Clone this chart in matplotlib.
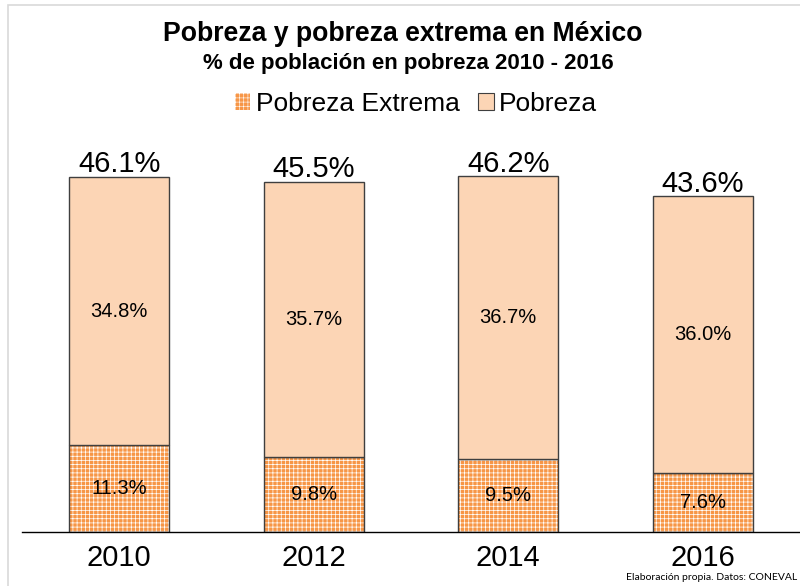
import matplotlib
matplotlib.use("Agg")
import matplotlib.pyplot as plt
from matplotlib.patches import Rectangle, Patch

plt.rcParams['font.family'] = ['Liberation Sans', 'DejaVu Sans']

years = ['2010', '2012', '2014', '2016']
extrema = [11.3, 9.8, 9.5, 7.6]
pobreza = [34.8, 35.7, 36.7, 36.0]
totales = [46.1, 45.5, 46.2, 43.6]

orange = '#F79646'
peach = '#FCD5B5'
edge = '#3F3F3F'

fig = plt.figure(figsize=(8, 5.86), dpi=100)
ax = fig.add_axes([22 / 800, 1 - 532 / 586, 1 - 22 / 800, 385 / 586])

x = list(range(len(years)))
w = 0.515

# bottom segment: orange with fine white grid texture
plt.rcParams['hatch.linewidth'] = 0.5
ax.bar(x, extrema, w, color=orange, edgecolor='white', hatch='++++', linewidth=0)
ax.bar(x, extrema, w, fill=False, edgecolor=edge, linewidth=1)
ax.bar(x, pobreza, w, bottom=extrema, color=peach, edgecolor=edge, linewidth=1)

for i in x:
    ax.text(i, extrema[i] / 2, f'{extrema[i]:.1f}%', ha='center', va='center', fontsize=14.5)
    ax.text(i, extrema[i] + pobreza[i] / 2, f'{pobreza[i]:.1f}%', ha='center', va='center', fontsize=14.5)
    ax.annotate(f'{totales[i]:.1f}%', (i, extrema[i] + pobreza[i]), xytext=(0, -1),
                textcoords='offset points', ha='center', va='bottom', fontsize=21)

ax.set_xlim(-0.5, 3.5)
ax.set_ylim(0, 50)
ax.set_xticks(x)
ax.set_xticklabels(years, fontsize=21)
ax.tick_params(axis='x', length=0, pad=9)
ax.set_yticks([])
for s in ['top', 'right', 'left']:
    ax.spines[s].set_visible(False)
ax.spines['bottom'].set_color('black')
ax.spines['bottom'].set_linewidth(1)

fig.text(0.503, 1 - 34 / 586, 'Pobreza y pobreza extrema en México', ha='center', va='center',
         fontsize=19.2, fontweight='bold')
fig.text(0.511, 1 - 63 / 586, '% de población en pobreza 2010 - 2016', ha='center', va='center',
         fontsize=16, fontweight='bold')

plt.rcParams['hatch.linewidth'] = 0.4
handles = [Patch(facecolor=orange, edgecolor='white', hatch='++++', linewidth=0),
           Patch(facecolor=peach, edgecolor=edge, linewidth=0.8)]
leg = fig.legend(handles, ['Pobreza Extrema', 'Pobreza'], loc='center',
                 bbox_to_anchor=(0.52, 1 - 104 / 586), ncol=2, frameon=False, fontsize=19,
                 handlelength=0.6, handleheight=0.6, handletextpad=0.2, columnspacing=0.7)

fig.text(797 / 800, 1 - 578 / 586, 'Elaboración propia. Datos: CONEVAL', ha='right', va='center',
         fontsize=7.5, family=['Lato', 'DejaVu Sans'])

# light frame at top/left of the picture
fig.add_artist(Rectangle((8 / 800, -0.2), 1.5, 1.2 - 5 / 586, transform=fig.transFigure,
                         fill=False, edgecolor='#D9D9D9', linewidth=1.2))

fig.savefig('out.png', dpi=100)
